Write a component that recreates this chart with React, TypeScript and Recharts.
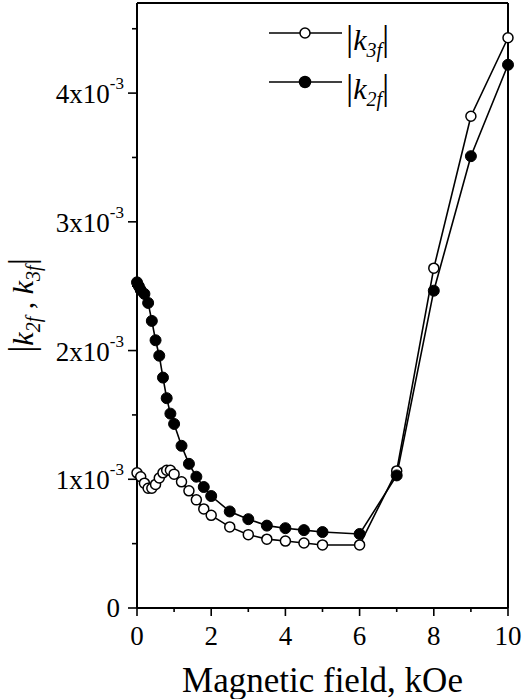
import React from 'react';
import { LineChart, Line, XAxis, YAxis, Legend } from 'recharts';

// Values in units of 1e-3
const k3fField = [0, 0.1, 0.2, 0.3, 0.4, 0.5, 0.6, 0.7, 0.8, 0.9, 1.0, 1.2, 1.4, 1.6, 1.8, 2.0, 2.5, 3.0, 3.5, 4.0, 4.5, 5.0, 6.0, 7, 8, 9, 10];
const k3fValues = [1.05, 1.02, 0.97, 0.93, 0.93, 0.96, 1.01, 1.05, 1.07, 1.07, 1.04, 0.98, 0.91, 0.84, 0.77, 0.72, 0.63, 0.57, 0.535, 0.52, 0.505, 0.49, 0.49, 1.065, 2.64, 3.82, 4.43];

const k2fField = [0, 0.05, 0.1, 0.2, 0.3, 0.4, 0.5, 0.6, 0.7, 0.8, 0.9, 1.0, 1.2, 1.4, 1.6, 1.8, 2.0, 2.5, 3.0, 3.5, 4.0, 4.5, 5.0, 6.0, 7, 8, 9, 10];
const k2fValues = [2.53, 2.5, 2.47, 2.44, 2.37, 2.23, 2.08, 1.96, 1.79, 1.63, 1.51, 1.43, 1.26, 1.12, 1.02, 0.94, 0.87, 0.75, 0.69, 0.64, 0.62, 0.605, 0.59, 0.575, 1.03, 2.465, 3.51, 4.22];

const xTicks = [0, 1, 2, 3, 4, 5, 6, 7, 8, 9, 10];
const yTicks = [0, 0.5, 1, 1.5, 2, 2.5, 3, 3.5, 4, 4.5];
const seriesOrder = ['k3f', 'k2f'];

const k3fData = k3fField.map((x, i) => ({ x, y: k3fValues[i] }));
const k2fData = k2fField.map((x, i) => ({ x, y: k2fValues[i] }));

const fam = "Liberation Serif, DejaVu Serif, Times New Roman, serif";
const isInt = (v: number) => Math.abs(v - Math.round(v)) < 1e-9;

const LeftTick = (props: any) => {
  const { x, y, payload } = props;
  const v = payload.value;
  const major = isInt(v);
  return (
    <g>
      <line x1={x} x2={x - (major ? 9 : 5)} y1={y} y2={y} stroke="#000" strokeWidth={1.6} />
      {major && (v === 0 ? (
        <text x={x - 17} y={y + 9} textAnchor="end" fontSize={27} fontFamily={fam} fill="#000">0</text>
      ) : (
        <text x={x - 13} y={y + 10} textAnchor="end" fontSize={27} fontFamily={fam} fill="#000">
          {`${v}x10`}
          <tspan fontSize={17} dy={-14}>-3</tspan>
        </text>
      ))}
    </g>
  );
};

const RightTick = (props: any) => {
  const { x, y, payload } = props;
  const major = isInt(payload.value);
  return <line x1={x} x2={x - (major ? 8 : 5)} y1={y} y2={y} stroke="#000" strokeWidth={1.6} />;
};

const BottomTick = (props: any) => {
  const { x, y, payload } = props;
  const v = payload.value;
  const major = v % 2 === 0;
  return (
    <g>
      <line x1={x} x2={x} y1={y} y2={y + (major ? 8 : 4)} stroke="#000" strokeWidth={1.6} />
      {major && (
        <text x={x} y={y + 37} textAnchor="middle" fontSize={27} fontFamily={fam} fill="#000">{v}</text>
      )}
    </g>
  );
};

const TopTick = (props: any) => {
  const { x, y, payload } = props;
  const major = payload.value % 2 === 0;
  return <line x1={x} x2={x} y1={y} y2={y + (major ? 7 : 5)} stroke="#000" strokeWidth={1.6} />;
};

const YLabel = (props: any) => {
  const vb = props.viewBox || { x: 0, y: 3, width: 137, height: 605 };
  const cx = vb.x + 33;
  const cy = vb.y + vb.height / 2;
  return (
    <text x={cx} y={cy} transform={`rotate(-90, ${cx}, ${cy})`} textAnchor="middle" fontFamily={fam} fontSize={30} fill="#000">
      <tspan fontSize={36}>|</tspan>
      <tspan fontStyle="italic">k</tspan>
      <tspan fontStyle="italic" fontSize={20} dy={7}>2f</tspan>
      <tspan dy={-7}> , </tspan>
      <tspan fontStyle="italic">k</tspan>
      <tspan fontStyle="italic" fontSize={20} dy={7}>3f</tspan>
      <tspan fontSize={36} dy={-7}>|</tspan>
    </text>
  );
};

const XLabel = (props: any) => {
  const vb = props.viewBox || { x: 137, y: 608, width: 371, height: 91 };
  return (
    <text x={vb.x + vb.width / 2} y={vb.y + 84} textAnchor="middle" fontFamily={fam} fontSize={35} fill="#000">
      Magnetic field, kOe
    </text>
  );
};

const subs: Record<string, string> = { k3f: '3f', k2f: '2f' };

const LegendContent = (props: any) => {
  const payload = [...(props.payload || [])].sort(
    (a: any, b: any) => seriesOrder.indexOf(a.value) - seriesOrder.indexOf(b.value)
  );
  return (
    <svg width={200} height={110} style={{ overflow: 'visible', display: 'block' }}>
      {payload.map((p: any, i: number) => {
        const cy = 33 + i * 49;
        const filled = p.value === 'k2f';
        return (
          <g key={i}>
            <line x1={9} x2={82} y1={cy} y2={cy} stroke="#000" strokeWidth={1.6} />
            <circle cx={45} cy={cy} r={filled ? 5.5 : 5} fill={filled ? '#000' : '#fff'} stroke="#000" strokeWidth={1.5} />
            <text x={86} y={cy + 17} fontFamily={fam} fontSize={30} fill="#000">
              <tspan fontSize={36}>|</tspan>
              <tspan fontStyle="italic">k</tspan>
              <tspan fontStyle="italic" fontSize={20} dy={7}>{subs[p.value]}</tspan>
              <tspan fontSize={36} dy={-7}>|</tspan>
            </text>
          </g>
        );
      })}
    </svg>
  );
};

export default function App() {
  return (
    <div style={{ position: 'absolute', left: 0, top: 0, background: '#fff', fontFamily: fam }}>
      <LineChart width={522} height={699} margin={{ top: 3, right: 14, bottom: 0, left: 0 }}>
        <XAxis
          xAxisId="bottom"
          type="number"
          dataKey="x"
          domain={[0, 10]}
          ticks={xTicks}
          interval={0}
          height={91}
          tickSize={0}
          tickMargin={0}
          tickLine={false}
          tick={<BottomTick />}
          axisLine={{ stroke: '#000', strokeWidth: 2 }}
          label={<XLabel />}
        />
        <XAxis
          xAxisId="top"
          orientation="top"
          mirror
          type="number"
          dataKey="x"
          domain={[0, 10]}
          ticks={xTicks}
          interval={0}
          tickSize={0}
          tickMargin={0}
          tickLine={false}
          tick={<TopTick />}
          axisLine={{ stroke: '#000', strokeWidth: 2 }}
        />
        <YAxis
          yAxisId="left"
          type="number"
          domain={[0, 4.7]}
          ticks={yTicks}
          interval={0}
          width={137}
          tickSize={0}
          tickMargin={0}
          tickLine={false}
          tick={<LeftTick />}
          axisLine={{ stroke: '#000', strokeWidth: 2 }}
          label={<YLabel />}
        />
        <YAxis
          yAxisId="right"
          orientation="right"
          mirror
          type="number"
          domain={[0, 4.7]}
          ticks={yTicks}
          interval={0}
          tickSize={0}
          tickMargin={0}
          tickLine={false}
          tick={<RightTick />}
          axisLine={{ stroke: '#000', strokeWidth: 2 }}
        />
        <Legend
          layout="horizontal"
          verticalAlign="middle"
          align="center"
          content={<LegendContent />}
          wrapperStyle={{ position: 'absolute', left: 260, top: 0, width: 200, height: 110 }}
        />
        <Line
          data={k3fData}
          xAxisId="bottom"
          yAxisId="left"
          dataKey="y"
          name="k3f"
          stroke="#000"
          strokeWidth={1.6}
          dot={{ r: 5, fill: '#fff', stroke: '#000', strokeWidth: 1.5 }}
          activeDot={false}
          isAnimationActive={false}
        />
        <Line
          data={k2fData}
          xAxisId="bottom"
          yAxisId="left"
          dataKey="y"
          name="k2f"
          stroke="#000"
          strokeWidth={1.6}
          dot={{ r: 5.5, fill: '#000', stroke: '#000', strokeWidth: 1 }}
          activeDot={false}
          isAnimationActive={false}
        />
      </LineChart>
    </div>
  );
}
